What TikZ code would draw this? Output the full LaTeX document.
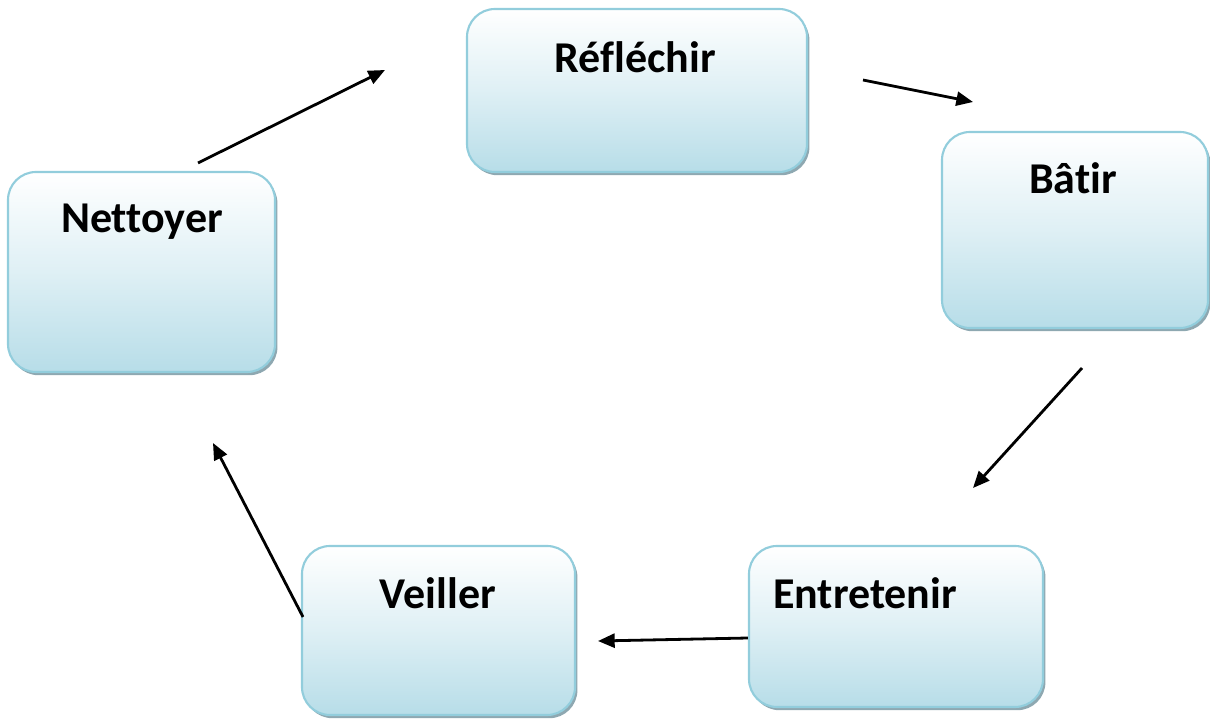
\documentclass[tikz,border=0pt]{standalone}
\usepackage{fontspec}
\setmainfont{Carlito}[Ligatures=NoCommon]
\usetikzlibrary{arrows.meta,shadows}

\definecolor{boxline}{RGB}{146,205,220}
\definecolor{boxfill}{RGB}{183,221,232}
\definecolor{boxshadow}{RGB}{130,158,168}

\tikzset{every picture/.style={line width=0.75pt}}
\tikzset{
  stepbox/.style={draw=boxline, line width=1.6pt, rounded corners=21pt,
    top color=white, bottom color=boxfill, middle color=white!55!boxfill,
    drop shadow={shadow xshift=1.8pt, shadow yshift=-2.4pt, fill=boxshadow, opacity=0.9},
    inner sep=0pt},
  steptext/.style={font=\bfseries\fontsize{33}{38}\selectfont, inner sep=0.75pt},
  flow/.style={line width=2.1pt, -{Triangle[length=12.5pt,width=10.5pt]}}
}

\begin{document}
\begin{tikzpicture}[x=0.75pt,y=0.75pt,yscale=-1,xscale=1]
\useasboundingbox (0,0) rectangle (1210,720);

% Boxes
\node [stepbox, minimum width=255pt, minimum height=122.25pt] (reflechir) at (637,90.5) {};
\node [stepbox, minimum width=199.5pt, minimum height=147pt] (batir) at (1075,230) {};
\node [stepbox, minimum width=200.25pt, minimum height=150pt] (nettoyer) at (141.5,272) {};
\node [stepbox, minimum width=204.75pt, minimum height=126.75pt] (veiller) at (438.5,630.5) {};
\node [stepbox, minimum width=220.5pt, minimum height=120.75pt] (entretenir) at (896,626.5) {};

% Labels
\node [steptext] (reflechir-t) at (635,57) {Réfléchir};
\node [steptext] (batir-t) at (1073,178) {Bâtir};
\node [steptext] (nettoyer-t) at (142,222) {Nettoyer};
\node [steptext] (veiller-t) at (438,593) {Veiller};
\node [steptext] (entretenir-t) at (865,593) {Entretenir};

% Arrow ends
\coordinate (nettoyer-out) at (198,163);
\coordinate (reflechir-in) at (385,70);
\coordinate (reflechir-out) at (863,80);
\coordinate (batir-in) at (973,102);
\coordinate (batir-out) at (1082,368);
\coordinate (entretenir-in) at (973,488);
\coordinate (entretenir-out) at (entretenir.west |- 0,638);
\coordinate (veiller-in) at (598,641);
\coordinate (veiller-out) at (303,617);
\coordinate (nettoyer-in) at (213,443);

% Connections
\draw [flow] (nettoyer-out) -- (reflechir-in);
\draw [flow] (reflechir-out) -- (batir-in);
\draw [flow] (batir-out) -- (entretenir-in);
\draw [flow] (entretenir-out) -- (veiller-in);
\draw [flow] (veiller-out) -- (nettoyer-in);

\end{tikzpicture}
\end{document}
